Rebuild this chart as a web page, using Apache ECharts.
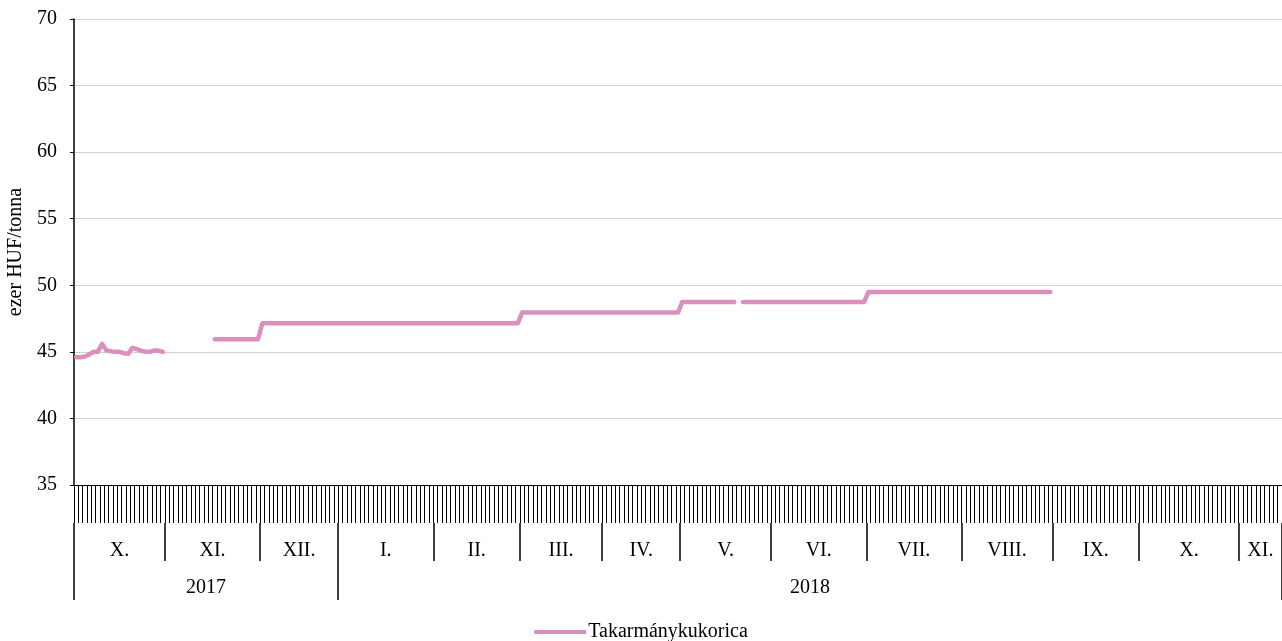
<!DOCTYPE html>
<html>
<head>
<meta charset="utf-8">
<script src="https://cdn.jsdelivr.net/npm/echarts@6/dist/echarts.min.js"></script>
<style>
html,body{margin:0;padding:0;background:#fff;}
#main{width:1282px;height:641px;}
</style>
</head>
<body>
<div id="main"></div>
<script>
// honapok (kereskedesi napok szama / honap)
var monthNames = ['X.','XI.','XII.','I.','II.','III.','IV.','V.','VI.','VII.','VIII.','IX.','X.','XI.'];
var monthDays  = [21, 22, 18, 22, 20, 19, 18, 21, 22, 22, 21, 20, 23, 10];
var years      = ['2017','2018'];
var yearMonths = [3, 11];   // hany honap tartozik az evhez

// ezer HUF/tonna, honaponkent
var okt17 = [44.6,44.6,44.65,44.8,45.0,45.0,45.6,45.1,45.05,45.0,45.0,44.9,44.85,45.3,45.2,45.1,45.0,45.0,45.1,45.1,45.0];
var nov17 = [null,null,null,null,null,null,null,null,null,null,null,45.95,45.95,45.95,45.95,45.95,45.95,45.95,45.95,45.95,45.95,45.95];
var dec17 = [47.15,47.15,47.15,47.15,47.15,47.15,47.15,47.15,47.15,47.15,47.15,47.15,47.15,47.15,47.15,47.15,47.15,47.15];
var jan18 = [47.15,47.15,47.15,47.15,47.15,47.15,47.15,47.15,47.15,47.15,47.15,47.15,47.15,47.15,47.15,47.15,47.15,47.15,47.15,47.15,47.15,47.15];
var feb18 = [47.15,47.15,47.15,47.15,47.15,47.15,47.15,47.15,47.15,47.15,47.15,47.15,47.15,47.15,47.15,47.15,47.15,47.15,47.15,47.15];
var mar18 = [47.95,47.95,47.95,47.95,47.95,47.95,47.95,47.95,47.95,47.95,47.95,47.95,47.95,47.95,47.95,47.95,47.95,47.95,47.95];
var apr18 = [47.95,47.95,47.95,47.95,47.95,47.95,47.95,47.95,47.95,47.95,47.95,47.95,47.95,47.95,47.95,47.95,47.95,47.95];
var maj18 = [48.75,48.75,48.75,48.75,48.75,48.75,48.75,48.75,48.75,48.75,48.75,48.75,48.75,null,48.75,48.75,48.75,48.75,48.75,48.75,48.75];
var jun18 = [48.75,48.75,48.75,48.75,48.75,48.75,48.75,48.75,48.75,48.75,48.75,48.75,48.75,48.75,48.75,48.75,48.75,48.75,48.75,48.75,48.75,48.75];
var jul18 = [49.5,49.5,49.5,49.5,49.5,49.5,49.5,49.5,49.5,49.5,49.5,49.5,49.5,49.5,49.5,49.5,49.5,49.5,49.5,49.5,49.5,49.5];
var aug18 = [49.5,49.5,49.5,49.5,49.5,49.5,49.5,49.5,49.5,49.5,49.5,49.5,49.5,49.5,49.5,49.5,49.5,49.5,49.5,49.5,49.5];
var szep18 = [];
var okt18 = [];
var nov18 = [];

var monthData = [okt17,nov17,dec17,jan18,feb18,mar18,apr18,maj18,jun18,jul18,aug18,szep18,okt18,nov18];

// napi kategoriak + adat osszefuzese
var days = [];
var values = [];
var monthBounds = [0];
var monthMids = [];
var pos = 0;
for (var m = 0; m < monthNames.length; m++) {
	for (var d = 0; d < monthDays[m]; d++) {
		days.push(monthNames[m] + (d + 1));
		var v = monthData[m][d];
		values.push(v === undefined ? null : v);
	}
	monthMids.push(pos + monthDays[m] / 2);
	pos += monthDays[m];
	monthBounds.push(pos);
}
var N = pos;
var yearBounds = [0];
var yearMids = [];
var mi = 0;
for (var y = 0; y < years.length; y++) {
	var start = monthBounds[mi];
	mi += yearMonths[y];
	yearMids.push((start + monthBounds[mi]) / 2);
	yearBounds.push(monthBounds[mi]);
}

var font = 'Liberation Serif';
var fs = 20;
var myChart = echarts.init(document.getElementById('main'));
var option = {
	animation: false,
	textStyle: {fontFamily: font, color: '#000'},
	grid: {left: 74, right: 0, top: 19, bottom: 156, containLabel: false, outerBoundsMode: 'none'},
	legend: {
		top: 617,
		left: 'center',
		icon: 'rect',
		itemWidth: 52,
		itemHeight: 4,
		itemGap: 10,
		textStyle: {fontFamily: font, fontSize: fs, color: '#000', padding: [0, 0, 0, -3]},
		data: ['Takarmánykukorica']
	},
	xAxis: [
		{
			type: 'category',
			data: days,
			boundaryGap: true,
			axisLine: {show: true, lineStyle: {color: '#000', width: 1}},
			axisTick: {show: true, interval: 0, length: 38, lineStyle: {color: '#000', width: 1}},
			axisLabel: {show: false},
			splitLine: {show: false}
		},
		{
			type: 'value',
			min: 0, max: N,
			position: 'bottom',
			offset: 38,
			axisLine: {show: false},
			splitLine: {show: false},
			axisTick: {show: true, length: 38, customValues: monthBounds, lineStyle: {color: '#000', width: 1.5}},
			axisLabel: {
				show: true, margin: 18, customValues: monthMids,
				fontFamily: font, fontSize: fs, color: '#000',
				formatter: function (val) {
					for (var i = 0; i < monthMids.length; i++) {
						if (Math.abs(monthMids[i] - val) < 0.01) return monthNames[i];
					}
					return '';
				}
			}
		},
		{
			type: 'value',
			min: 0, max: N,
			position: 'bottom',
			offset: 76,
			axisLine: {show: false},
			splitLine: {show: false},
			axisTick: {show: true, length: 39, customValues: yearBounds, lineStyle: {color: '#000', width: 1.5}},
			axisLabel: {
				show: true, margin: 17, customValues: yearMids,
				fontFamily: font, fontSize: fs, color: '#000',
				formatter: function (val) {
					for (var i = 0; i < yearMids.length; i++) {
						if (Math.abs(yearMids[i] - val) < 0.01) return years[i];
					}
					return '';
				}
			}
		}
	],
	yAxis: {
		type: 'value',
		min: 35, max: 70, interval: 5,
		name: 'ezer HUF/tonna',
		nameLocation: 'middle',
		nameGap: 46,
		nameRotate: 90,
		nameTextStyle: {fontFamily: font, fontSize: fs, color: '#000'},
		axisLine: {show: true, lineStyle: {color: '#000', width: 1.5}},
		axisTick: {show: true, length: 4, lineStyle: {color: '#000'}},
		axisLabel: {margin: 17, fontFamily: font, fontSize: fs, color: '#000'},
		splitLine: {show: true, lineStyle: {color: '#d0d0d0', width: 1}}
	},
	series: [
		{
			name: 'Takarmánykukorica',
			type: 'line',
			xAxisIndex: 0,
			data: values,
			showSymbol: false,
			symbol: 'none',
			connectNulls: false,
			itemStyle: {color: '#DA8FBE'},
			lineStyle: {color: '#DA8FBE', width: 4.5, cap: 'round', join: 'round'}
		}
	]
};
myChart.setOption(option);
</script>
</body>
</html>
